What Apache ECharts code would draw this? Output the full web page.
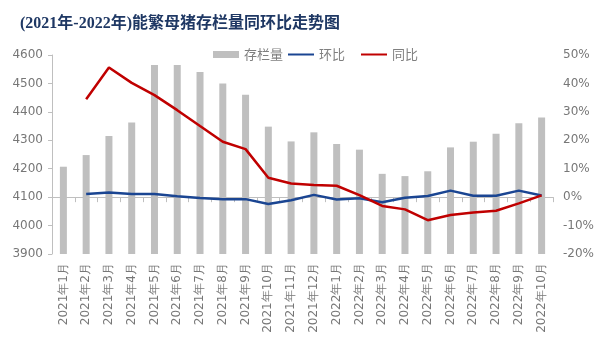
<!DOCTYPE html>
<html>
<head>
<meta charset="utf-8">
<script src="https://cdn.jsdelivr.net/npm/echarts@6/dist/echarts.min.js"></script>
<style>html,body{margin:0;padding:0;background:#fff;}#main{width:600px;height:344px;}</style>
</head>
<body>
<div id="main"></div>
<script>
var categories = ['2021年1月','2021年2月','2021年3月','2021年4月','2021年5月','2021年6月','2021年7月','2021年8月','2021年9月','2021年10月','2021年11月','2021年12月',
  '2022年1月','2022年2月','2022年3月','2022年4月','2022年5月','2022年6月','2022年7月','2022年8月','2022年9月','2022年10月'];
var inventory = [4207,4248,4315,4363,4565,4565,4540,4500,4460,4348,4296,4328,4287,4267,4182,4174,4191,4275,4295,4323,4360,4380];
var mom = [null,1.1,1.6,1.1,1.1,0.3,-0.3,-0.7,-0.7,-2.4,-1.1,0.8,-0.8,-0.4,-1.8,-0.2,0.4,2.3,0.5,0.5,2.3,0.6];
var yoy = [null,34.4,45.6,40.2,35.9,30.6,25.0,19.5,16.9,6.8,4.8,4.3,4.0,0.7,-3.1,-4.3,-8.1,-6.3,-5.4,-4.8,-2.2,0.6];
var leftTicks = {min:3900, max:4600, interval:100};
var rightTicks = {min:-20, max:50, interval:10};

var chart = echarts.init(document.getElementById('main'));
var labelColor = '#777777';
var axisFont = "'DejaVu Sans',sans-serif";
var legendText = {fontSize:13, color:'#7f7f7f', fontFamily:"'Noto Sans CJK SC',sans-serif"};
chart.setOption({
  animation:false,
  title:{
    text:'(2021年-2022年)能繁母猪存栏量同环比走势图',
    left:15, top:11,
    textStyle:{fontSize:16, fontWeight:'bold', color:'#1F3864', fontFamily:"'Liberation Serif','Noto Sans CJK SC',serif"}
  },
  legend:[{
    top:43, left:208,
    itemWidth:26, itemHeight:7, itemGap:4,
    textStyle:legendText,
    data:[{name:'存栏量', icon:'rect'},{name:'环比', itemStyle:{opacity:0}}]
  },{
    top:43, left:355,
    itemWidth:26, itemHeight:7,
    textStyle:legendText,
    data:[{name:'同比', itemStyle:{opacity:0}}]
  }],
  grid:{left:52, right:47, top:55, bottom:90},
  xAxis:{
    type:'category', data:categories, boundaryGap:true,
    axisLine:{lineStyle:{color:'#BFBFBF'}},
    axisTick:{show:true, length:5, lineStyle:{color:'#BFBFBF'}},
    axisLabel:{rotate:90, fontSize:12, color:labelColor, interval:0, margin:9, fontFamily:axisFont}
  },
  yAxis:[{
    type:'value', min:leftTicks.min, max:leftTicks.max, interval:leftTicks.interval,
    axisLine:{show:true, lineStyle:{color:'#BFBFBF'}},
    axisTick:{show:true, length:4, lineStyle:{color:'#BFBFBF'}},
    splitLine:{show:false},
    axisLabel:{fontSize:12, color:labelColor, margin:9, fontFamily:axisFont, formatter:function(v){return String(v);}}
  },{
    type:'value', min:rightTicks.min, max:rightTicks.max, interval:rightTicks.interval,
    axisLine:{show:false}, axisTick:{show:false}, splitLine:{show:false},
    axisLabel:{fontSize:12, color:labelColor, margin:10, formatter:'{value}%', fontFamily:axisFont}
  }],
  series:[{
    name:'存栏量', type:'bar', data:inventory, barWidth:7, itemStyle:{color:'#BFBFBF'}, yAxisIndex:0
  },{
    name:'环比', type:'line', data:mom, yAxisIndex:1, showSymbol:false, symbol:'none',
    lineStyle:{color:'#1A4592', width:2.5}, itemStyle:{color:'#1A4592'}
  },{
    name:'同比', type:'line', data:yoy, yAxisIndex:1, showSymbol:false, symbol:'none',
    lineStyle:{color:'#C00000', width:2.5}, itemStyle:{color:'#C00000'}
  }]
});
</script>
</body>
</html>
